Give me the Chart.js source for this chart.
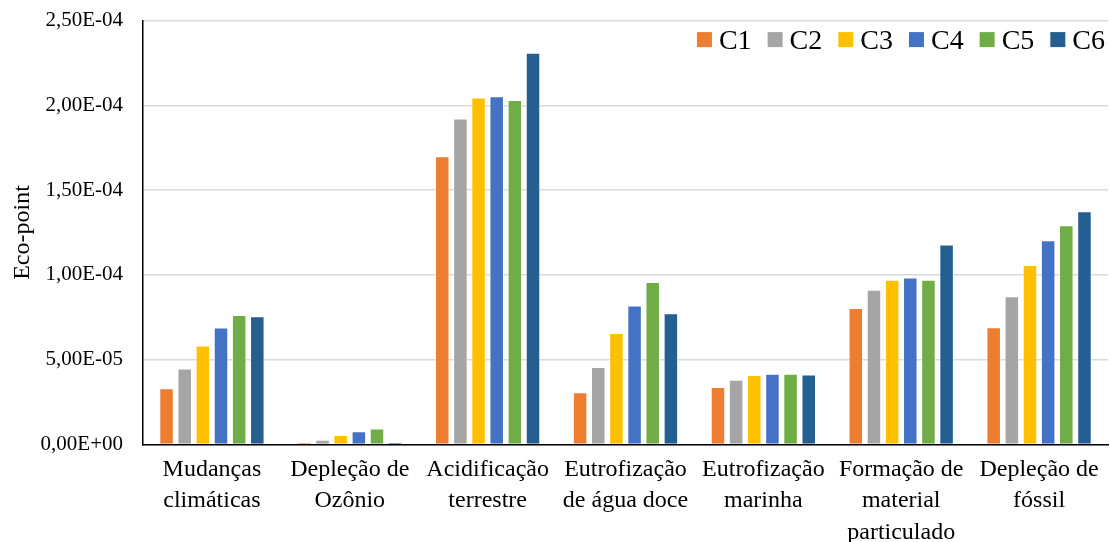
<!DOCTYPE html>
<html>
<head>
<meta charset="utf-8">
<script src="https://cdn.jsdelivr.net/npm/chart.js@4.4.1/dist/chart.umd.min.js"></script>
<style>
  html, body { margin: 0; padding: 0; background: #fff; overflow: hidden; }
  #wrap { width: 1110px; height: 570px; margin-top: -12px; }
</style>
</head>
<body>
<div id="wrap"><canvas id="ecoChart"></canvas></div>
<script>
// Categorias (eixo X)
const categorias = [
    ['Mudanças', 'climáticas'],
    ['Depleção de', 'Ozônio'],
    ['Acidificação', 'terrestre'],
    ['Eutrofização', 'de água doce'],
    ['Eutrofização', 'marinha'],
    ['Formação de', 'material', 'particulado'],
    ['Depleção de', 'fóssil']
];

// Valores por cenário (Eco-point)
const c1 = [3.31e-5, 1.2e-6, 1.70e-4, 3.07e-5, 3.38e-5, 8.05e-5, 6.91e-5];
const c2 = [4.47e-5, 2.8e-6, 1.923e-4, 4.56e-5, 3.82e-5, 9.13e-5, 8.74e-5];
const c3 = [5.83e-5, 5.5e-6, 2.047e-4, 6.57e-5, 4.09e-5, 9.72e-5, 1.058e-4];
const c4 = [6.89e-5, 7.7e-6, 2.054e-4, 8.20e-5, 4.17e-5, 9.84e-5, 1.204e-4];
const c5 = [7.63e-5, 9.4e-6, 2.031e-4, 9.58e-5, 4.17e-5, 9.72e-5, 1.293e-4];
const c6 = [7.56e-5, 1.2e-6, 2.31e-4, 7.73e-5, 4.13e-5, 1.179e-4, 1.375e-4];

const nomesSeries = ['C1', 'C2', 'C3', 'C4', 'C5', 'C6'];
const cores = ['#ED7D31', '#A5A5A5', '#FFC000', '#4472C4', '#70AD47', '#255E91'];

// Eixo Y
const yMin = 0;
const yMax = 2.5e-4;
const yPasso = 5e-5;

// Formato "2,50E-04"
function formatoCientifico(v) {
    if (v === 0) return '0,00E+00';
    const [mant, exp] = v.toExponential(2).split('e');
    const e = parseInt(exp, 10);
    const sinal = e < 0 ? '-' : '+';
    return mant.replace('.', ',') + 'E' + sinal + String(Math.abs(e)).padStart(2, '0');
}

const fonte = 'Liberation Serif';
const valores = [c1, c2, c3, c4, c5, c6];

// Legenda desenhada dentro da área do gráfico (canto superior direito)
const legendaInterna = {
    id: 'legendaInterna',
    afterDraw(chart) {
        const ctx = chart.ctx;
        const area = chart.chartArea;
        const caixa = 15, gapTexto = 7, gapItem = 16;
        ctx.save();
        ctx.font = '28px "' + fonte + '"';
        ctx.textBaseline = 'middle';
        const itens = chart.data.datasets.map(ds => ({
            texto: ds.label, cor: ds.backgroundColor,
            w: caixa + gapTexto + ctx.measureText(ds.label).width
        }));
        const total = itens.reduce((s, it) => s + it.w, 0) + gapItem * (itens.length - 1);
        let x = area.right - 3 - total;
        const y = area.top + 19;
        itens.forEach(it => {
            ctx.fillStyle = it.cor;
            ctx.fillRect(x, y - caixa / 2, caixa, caixa);
            ctx.fillStyle = '#000';
            ctx.fillText(it.texto, x + caixa + gapTexto, y + 2);
            x += it.w + gapItem;
        });
        ctx.restore();
    }
};

const ecoData = {
    labels: categorias,
    datasets: nomesSeries.map((nome, i) => ({
        label: nome,
        data: valores[i],
        backgroundColor: cores[i],
        borderColor: 'rgba(255,255,255,0.6)',
        borderWidth: 1,
        categoryPercentage: 0.79,
        barPercentage: 0.8
    }))
};

const ecoConfig = {
    type: 'bar',
    data: ecoData,
    options: {
        responsive: true,
        maintainAspectRatio: false,
        animation: false,
        layout: {
            padding: { top: 0, right: 2, left: 8, bottom: 0 }
        },
        scales: {
            x: {
                grid: { display: false, drawTicks: false },
                border: { color: '#000', width: 1.5 },
                ticks: {
                    color: '#000',
                    padding: 10,
                    maxRotation: 0,
                    autoSkip: false,
                    font: { family: fonte, size: 24, lineHeight: 1.3 }
                }
            },
            y: {
                min: yMin,
                max: yMax,
                afterFit: (scale) => { scale.width = 135; },
                title: {
                    display: true,
                    text: 'Eco-point',
                    color: '#000',
                    font: { family: fonte, size: 24 },
                    padding: { top: 0, bottom: 0 }
                },
                grid: { color: '#d9d9d9', lineWidth: 1.5, drawTicks: false },
                border: { color: '#000', width: 1.5 },
                ticks: {
                    stepSize: yPasso,
                    color: '#000',
                    padding: 20,
                    font: { family: fonte, size: 21 },
                    callback: (v) => formatoCientifico(v)
                }
            }
        },
        plugins: {
            tooltip: { enabled: false },
            legend: { display: false }
        }
    },
    plugins: [legendaInterna]
};

const ecoChart = new Chart(document.getElementById('ecoChart'), ecoConfig);
</script>
</body>
</html>
